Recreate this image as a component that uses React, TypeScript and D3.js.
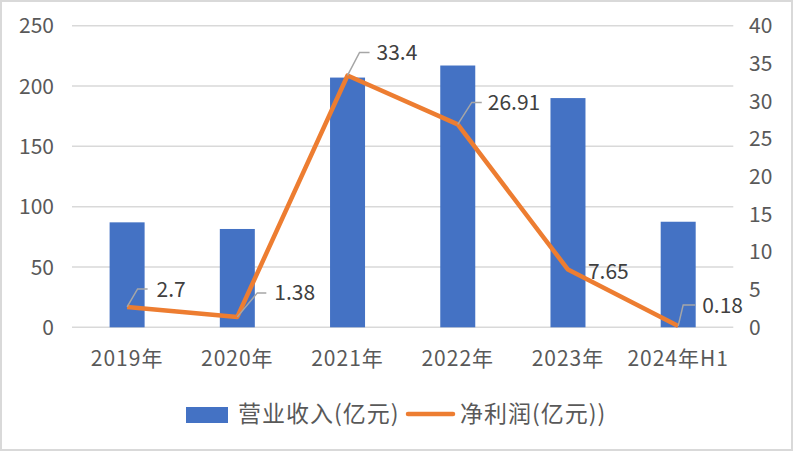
import React from "react";
import * as d3 from "d3";

const categories = ["2019年", "2020年", "2021年", "2022年", "2023年", "2024年H1"];
const revenue = [87, 81.5, 207, 217, 190, 87.5];
const netProfit = [2.7, 1.38, 33.4, 26.91, 7.65, 0.18];
const leftTicks = [0, 50, 100, 150, 200, 250];
const rightTicks = [0, 5, 10, 15, 20, 25, 30, 35, 40];
const seriesNames = ["营业收入(亿元)", "净利润(亿元))"];

// label leader geometry (style): [elbowDx, elbowDy, horizontalLen, textGap, showLeader]
const labelStyle: [number, number, number, number, boolean][] = [
  [10.5, -18, 10, 9, true],
  [20, -24, 9, 8, true],
  [12, -23, 10, 7, true],
  [14, -22, 10, 6, true],
  [20, 2, 0, 0, false],
  [5, -21, 12, 7, true],
];

const W = 794;
const H = 452;
const FONT = "'Noto Sans CJK SC', 'Noto Sans', sans-serif";

export default function App() {
  const x = d3.scaleBand<string>().domain(categories).range([72, 733.3]).paddingInner(0).paddingOuter(0);
  const yL = d3.scaleLinear().domain([0, 250]).range([327.3, 25.7]);
  const yR = d3.scaleLinear().domain([0, 40]).range([327.3, 25.7]);
  const barW = 35;
  const cx = (c: string) => (x(c) as number) + x.bandwidth() / 2;
  const line = d3
    .line<number>()
    .x((_, i) => cx(categories[i]))
    .y((d) => yR(d));

  return (
    <svg width={W} height={H} style={{ position: "absolute", left: 0, top: 0, fontFamily: FONT }}>
      <rect x={0} y={0} width={W} height={H} fill="#fff" />
      <rect x={1} y={1} width={791} height={449} fill="none" stroke="#D9D9D9" strokeWidth={2} />
      {leftTicks.map((t) => (
        <line key={"g" + t} x1={72} x2={733.3} y1={yL(t)} y2={yL(t)} stroke="#D9D9D9" strokeWidth={1.5} />
      ))}
      {leftTicks.map((t) => (
        <text key={"l" + t} x={54} y={yL(t)} dy="0.36em" textAnchor="end" fontSize={21} fill="#595959">
          {t}
        </text>
      ))}
      {rightTicks.map((t) => (
        <text key={"r" + t} x={749} y={yR(t)} dy="0.36em" textAnchor="start" fontSize={21} fill="#595959">
          {t}
        </text>
      ))}
      {categories.map((c) => (
        <text
          key={"x" + c}
          x={cx(c)}
          y={358}
          dy="0.36em"
          textAnchor="middle"
          fontSize={21}
          letterSpacing={1}
          fill="#595959"
        >
          {c}
        </text>
      ))}
      {revenue.map((v, i) => (
        <rect
          key={"b" + i}
          x={cx(categories[i]) - barW / 2}
          y={yL(v)}
          width={barW}
          height={yL(0) - yL(v)}
          fill="#4472C4"
        />
      ))}
      <path d={line(netProfit) || ""} fill="none" stroke="#ED7D31" strokeWidth={4.5} strokeLinejoin="round" />
      {netProfit.map((v, i) => {
        const px = cx(categories[i]);
        const py = yR(v);
        const [ex, ey, hl, gap, show] = labelStyle[i];
        const exA = px + ex;
        const eyA = py + ey;
        return (
          <g key={"dl" + i}>
            {show && (
              <polyline
                points={`${px},${py} ${exA},${eyA} ${exA + hl},${eyA}`}
                fill="none"
                stroke="#A6A6A6"
                strokeWidth={1.5}
              />
            )}
            <text x={exA + hl + gap} y={eyA} dy="0.36em" fontSize={21} fill="#404040">
              {v}
            </text>
          </g>
        );
      })}
      <rect x={186} y={407} width={42} height={16} fill="#4472C4" />
      <text x={238} y={414} dy="0.36em" fontSize={23} letterSpacing={1} fill="#595959">
        {seriesNames[0]}
      </text>
      <line x1={408} x2={453} y1={414} y2={414} stroke="#ED7D31" strokeWidth={4.5} strokeLinecap="round" />
      <text x={460} y={414} dy="0.36em" fontSize={23} letterSpacing={1} fill="#595959">
        {seriesNames[1]}
      </text>
    </svg>
  );
}
